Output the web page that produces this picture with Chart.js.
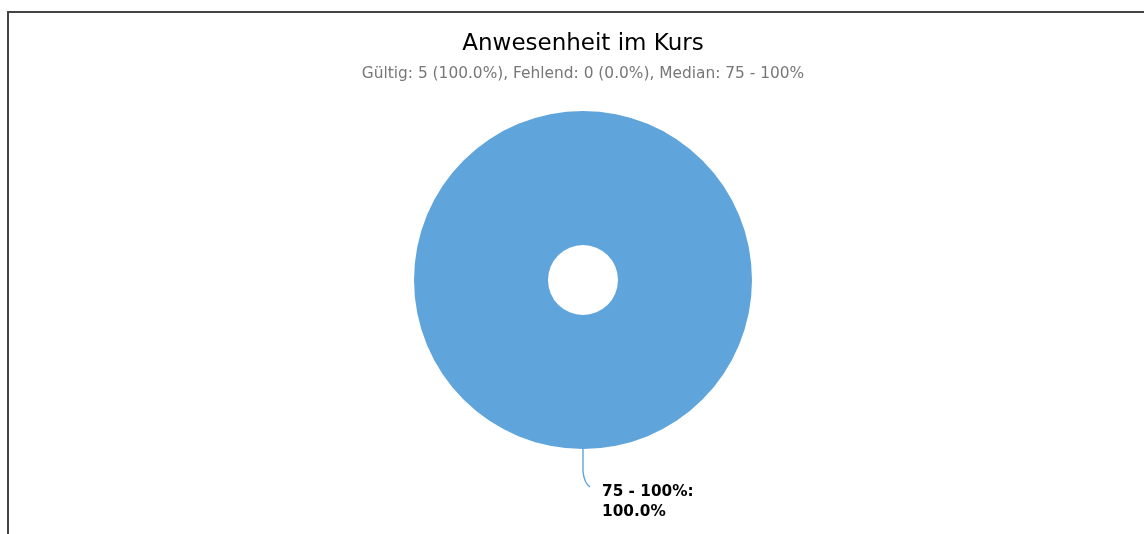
<!DOCTYPE html>
<html>
<head>
<meta charset="utf-8">
<script src="https://cdn.jsdelivr.net/npm/chart.js@4/dist/chart.umd.min.js"></script>
<style>
  html, body { margin: 0; padding: 0; background: #fff; overflow: hidden; }
  #wrap { position: relative; width: 1144px; height: 534px; }
  #chart { position: absolute; left: 0; top: 0; }
  #frame { position: absolute; left: 7px; top: 11px; width: 2000px; height: 2000px;
           border: 2px solid #444; pointer-events: none; }
</style>
</head>
<body>
<div id="wrap">
  <canvas id="chart" width="1144" height="534"></canvas>
  <div id="frame"></div>
</div>
<script>
// answer categories and counts
const categories = ['75 - 100%'];
const counts = [5];
const missing = 0;
const colors = ['#5fa5db'];

const total = counts.reduce((a, b) => a + b, 0) + missing;
const valid = total - missing;
const pct = v => (v / total * 100).toFixed(1) + '%';
const subtitle = 'Gültig: ' + valid + ' (' + pct(valid) + '), Fehlend: ' + missing +
  ' (' + pct(missing) + '), Median: ' + categories[0];

Chart.defaults.font.family = '"DejaVu Sans", sans-serif';

// leader lines and bold labels below each slice
const sliceLabels = {
  id: 'sliceLabels',
  afterDatasetsDraw(chart) {
    const ctx = chart.ctx;
    const meta = chart.getDatasetMeta(0);
    meta.data.forEach((arc, i) => {
      if (!counts[i]) return;
      const p = arc.getProps(['x', 'y', 'startAngle', 'endAngle', 'outerRadius']);
      const mid = (p.startAngle + p.endAngle) / 2;
      const x0 = p.x + Math.cos(mid) * p.outerRadius;
      const y0 = p.y + Math.sin(mid) * p.outerRadius;
      ctx.save();
      ctx.strokeStyle = colors[i];
      ctx.lineWidth = 1.4;
      ctx.beginPath();
      ctx.moveTo(x0, y0);
      ctx.lineTo(x0, y0 + 22);
      ctx.quadraticCurveTo(x0 + 1, y0 + 34, x0 + 7, y0 + 38);
      ctx.stroke();
      ctx.fillStyle = '#000';
      ctx.font = 'bold 15.3px "DejaVu Sans", sans-serif';
      ctx.textAlign = 'left';
      ctx.textBaseline = 'alphabetic';
      ctx.fillText(categories[i] + ':', x0 + 19, y0 + 47);
      ctx.fillText(pct(counts[i]), x0 + 19, y0 + 67);
      ctx.restore();
    });
  }
};

new Chart(document.getElementById('chart'), {
  type: 'doughnut',
  data: {
    labels: categories,
    datasets: [{
      data: counts,
      backgroundColor: colors,
      borderWidth: 0,
      radius: 169,
      cutout: '20.7%'
    }]
  },
  options: {
    responsive: false,
    animation: false,
    layout: { padding: { left: 22, right: 0, top: 30, bottom: 74 } },
    plugins: {
      legend: { display: false },
      tooltip: { enabled: false },
      title: {
        display: true,
        text: 'Anwesenheit im Kurs',
        color: '#000',
        font: { size: 23, weight: 'normal' },
        padding: { top: 0, bottom: 6.7 }
      },
      subtitle: {
        display: true,
        text: subtitle,
        color: '#777',
        font: { size: 15.4 },
        padding: { top: 0, bottom: 17.2 }
      }
    }
  },
  plugins: [sliceLabels]
});
</script>
</body>
</html>
